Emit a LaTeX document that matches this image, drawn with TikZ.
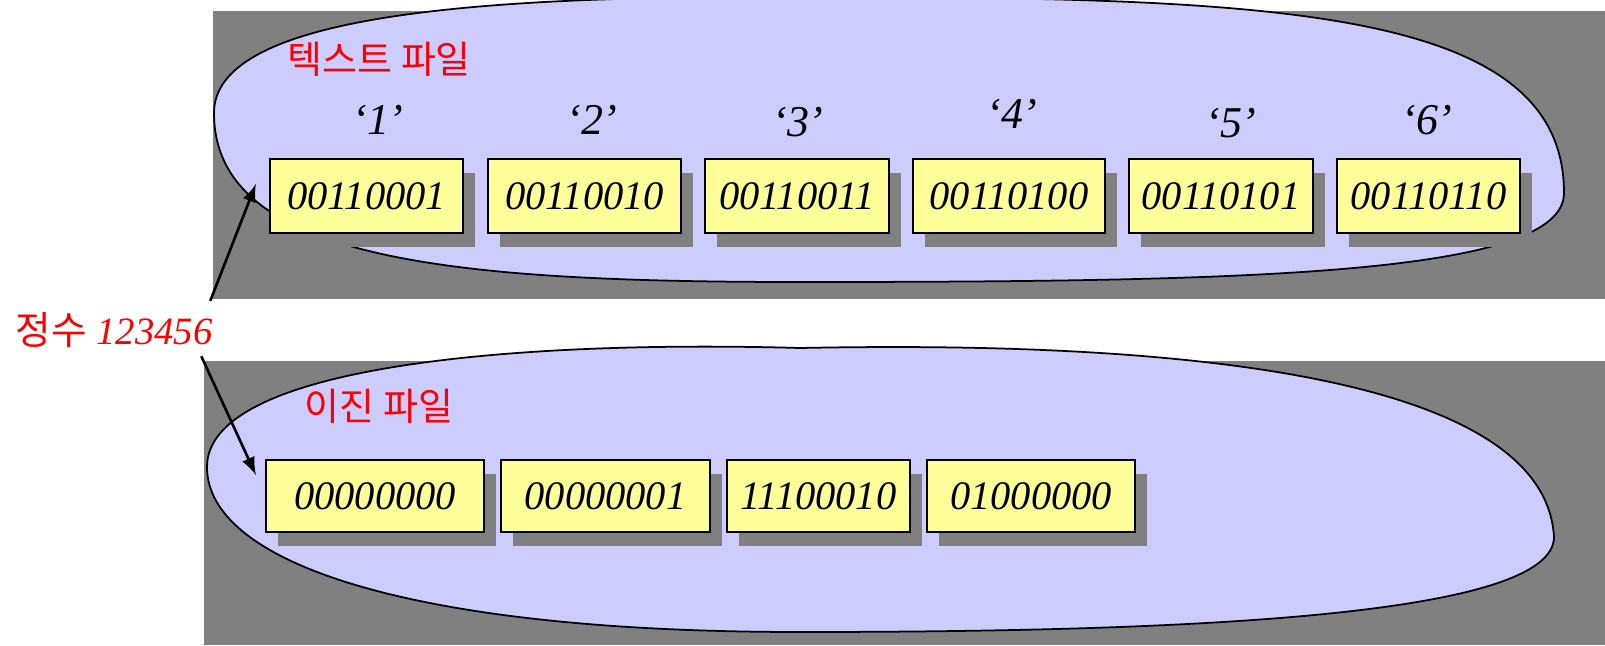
\documentclass[tikz,border=0pt]{standalone}
\usepackage{fontspec}
\setmainfont{Liberation Serif}
\newfontfamily\kor{Noto Sans CJK KR}
\usetikzlibrary{shadows}
\definecolor{lavender}{HTML}{CCCCFF}
\definecolor{cellyellow}{HTML}{FFFF99}
\definecolor{shadowgray}{HTML}{808080}

\begin{document}
\begin{tikzpicture}[x=0.01cm, y=-0.01cm,
	blob/.style={draw=black, line width=0.5pt, fill=lavender},
	cell/.style={draw=black, line width=0.6pt, fill=cellyellow, inner sep=0pt, font=\itshape\fontsize{11.5}{13}\selectfont,
		drop shadow={shadow xshift=0.12cm, shadow yshift=-0.14cm, fill=shadowgray, opacity=1}},
	charlabel/.style={font=\itshape\fontsize{12.5}{14}\selectfont, inner sep=0pt},
	filelabel/.style={font=\kor\fontsize{10.8}{13}\selectfont, text=red, anchor=west, inner sep=0pt},
	ptr/.style={line width=0.75pt, arrows={-latex}}]
	\useasboundingbox (0,0) rectangle (1605,645);
	% backgrounds
	\fill [shadowgray] (213,11) rectangle (1605,299);
	\fill [shadowgray] (204,361) rectangle (1605,645);
	\draw [blob] (214,113) .. controls (214,20) and (450,-3) .. (760,-3)
		.. controls (1250,-3) and (1564,0) .. (1564,193)
		.. controls (1564,275) and (1250,282) .. (800,282)
		.. controls (450,282) and (214,260) .. cycle;
	\draw [blob] (207,467) .. controls (207,560) and (400,632) .. (800,632)
		.. controls (1200,632) and (1554,615) .. (1554,537)
		.. controls (1545,380) and (1200,340) .. (800,348)
		.. controls (520,340) and (207,365) .. cycle;
	% text file
	\node [filelabel] (textfile) at (287,59) {텍스트 파일};
	\node [charlabel] (c1) at (378,120) {‘1’};
	\node [charlabel] (c2) at (592,120) {‘2’};
	\node [charlabel] (c3) at (798,122) {‘3’};
	\node [charlabel] (c4) at (1012,114) {‘4’};
	\node [charlabel] (c5) at (1231,123) {‘5’};
	\node [charlabel] (c6) at (1427,120) {‘6’};
	\node [cell, minimum width=1.93cm, minimum height=0.74cm] (t1) at (366.5,196) {00110001};
	\node [cell, minimum width=1.93cm, minimum height=0.74cm] (t2) at (584.5,196) {00110010};
	\node [cell, minimum width=1.84cm, minimum height=0.74cm] (t3) at (797,196) {00110011};
	\node [cell, minimum width=1.92cm, minimum height=0.74cm] (t4) at (1009,196) {00110100};
	\node [cell, minimum width=1.84cm, minimum height=0.74cm] (t5) at (1221,196) {00110101};
	\node [cell, minimum width=1.83cm, minimum height=0.74cm] (t6) at (1428.5,196) {00110110};
	% binary file
	\node [filelabel] (binfile) at (304,406) {이진 파일};
	\node [cell, minimum width=2.18cm, minimum height=0.72cm] (b1) at (375,496) {00000000};
	\node [cell, minimum width=2.09cm, minimum height=0.72cm] (b2) at (605.5,496) {00000001};
	\node [cell, minimum width=1.83cm, minimum height=0.72cm] (b3) at (818.5,496) {11100010};
	\node [cell, minimum width=2.08cm, minimum height=0.72cm] (b4) at (1031,496) {01000000};
	% the integer
	\node [anchor=west, inner sep=0pt, text=red, font=\fontsize{11}{13}\selectfont] (num) at (15,330) {{\kor 정수} \textit{123456}};
	\draw [ptr] ([xshift=-0.03cm, yshift=0.11cm]num.north east) -- ([xshift=-0.13cm, yshift=0.12cm]t1.west);
	\draw [ptr] ([xshift=-0.12cm, yshift=-0.08cm]num.south east) -- ([xshift=-0.09cm, yshift=0.21cm]b1.west);
\end{tikzpicture}
\end{document}
